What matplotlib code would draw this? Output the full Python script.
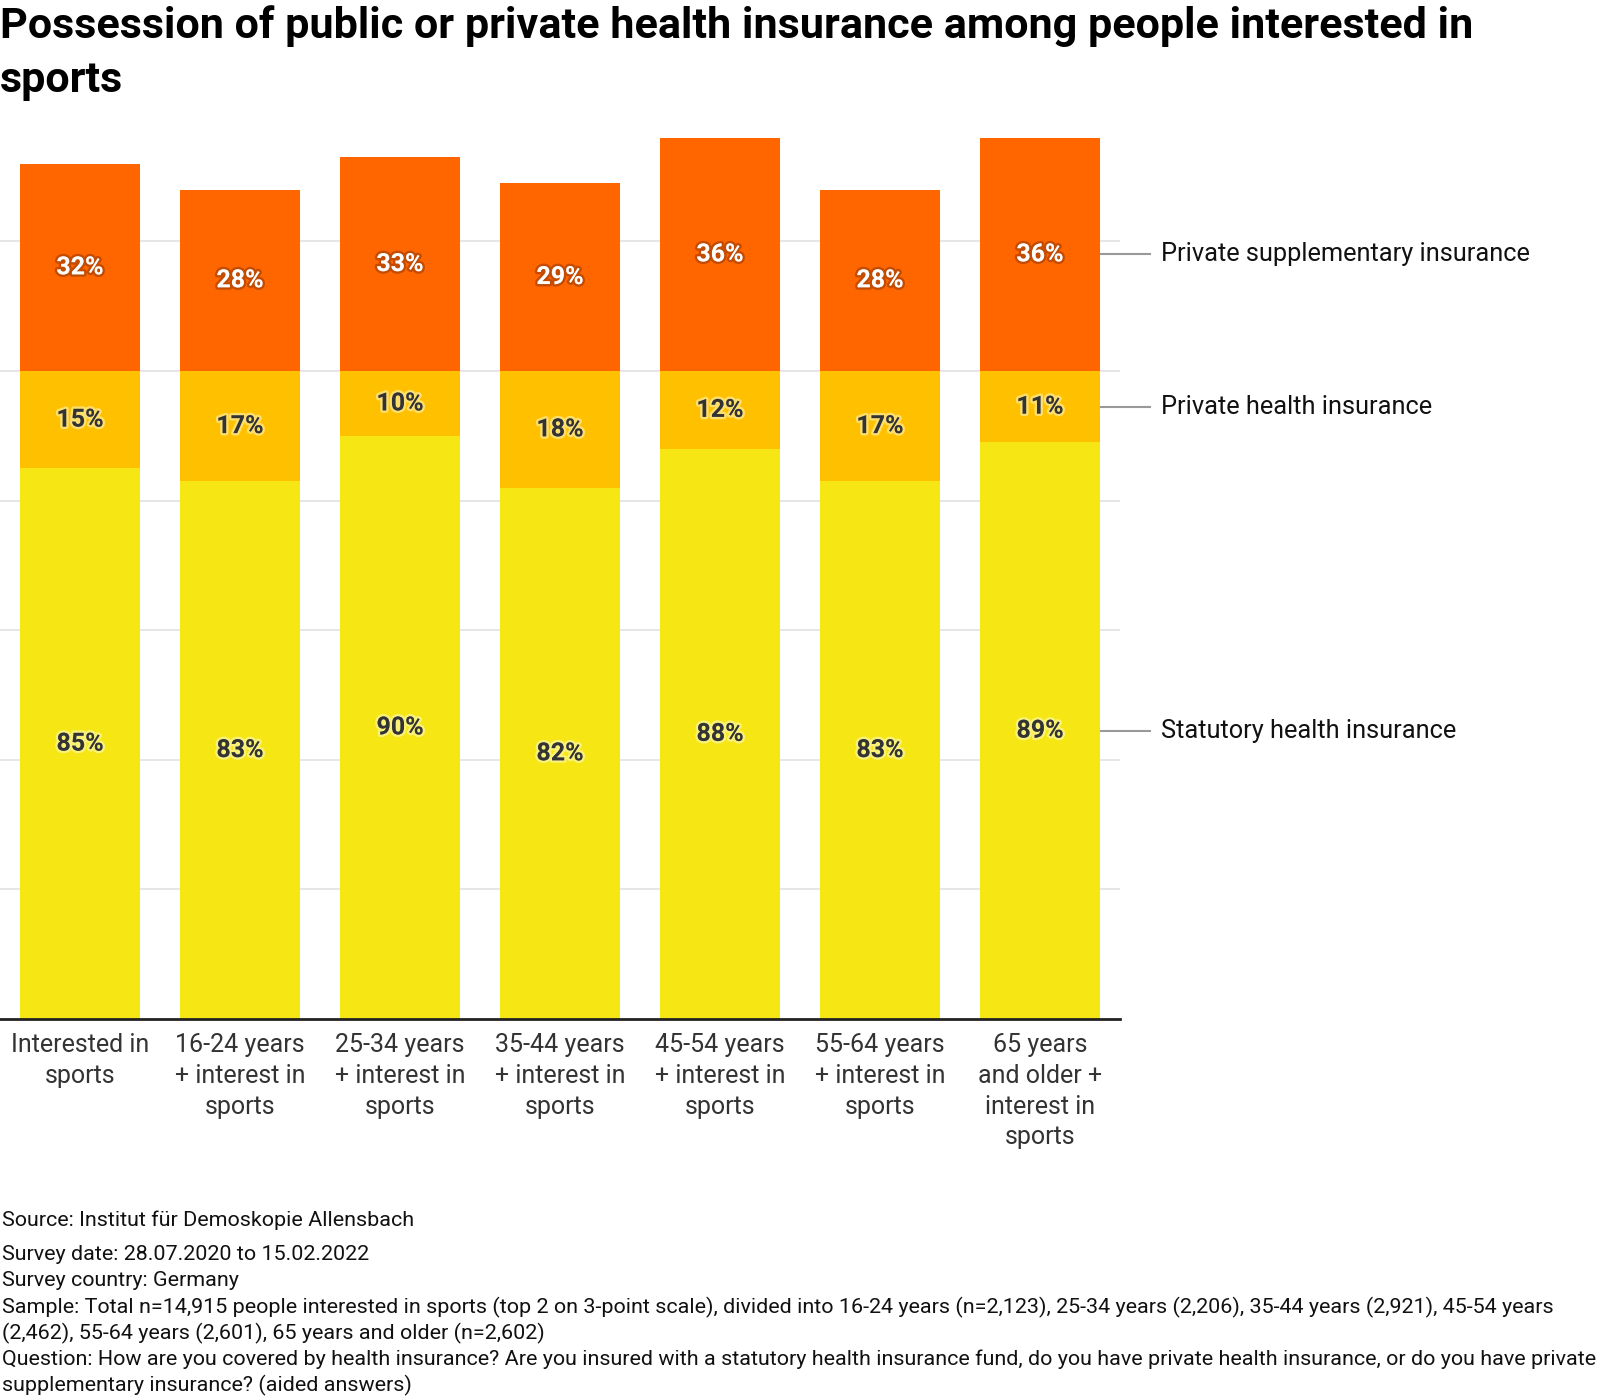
import matplotlib
matplotlib.use("Agg")
import matplotlib.pyplot as plt
import matplotlib.patheffects as pe

categories = [
    "Interested in\nsports",
    "16-24 years\n+ interest in\nsports",
    "25-34 years\n+ interest in\nsports",
    "35-44 years\n+ interest in\nsports",
    "45-54 years\n+ interest in\nsports",
    "55-64 years\n+ interest in\nsports",
    "65 years\nand older +\ninterest in\nsports",
]
statutory = [85, 83, 90, 82, 88, 83, 89]
private_health = [15, 17, 10, 18, 12, 17, 11]
private_supp = [32, 28, 33, 29, 36, 28, 36]
series_names = ["Statutory health insurance", "Private health insurance",
                "Private supplementary insurance"]
colors = ["#F5E614", "#FFC000", "#FF6600"]

title_lines = ["Possession of public or private health insurance among people interested in",
               "sports"]
source_line = "Source: Institut für Demoskopie Allensbach"
note_lines = [
    "Survey date: 28.07.2020 to 15.02.2022",
    "Survey country: Germany",
    "Sample: Total n=14,915 people interested in sports (top 2 on 3-point scale), divided into 16-24 years (n=2,123), 25-34 years (2,206), 35-44 years (2,921), 45-54 years",
    "(2,462), 55-64 years (2,601), 65 years and older (n=2,602)",
    "Question: How are you covered by health insurance? Are you insured with a statutory health insurance fund, do you have private health insurance, or do you have private",
    "supplementary insurance? (aided answers)",
]

FONT = "Roboto"
plt.rcParams["font.family"] = [FONT, "DejaVu Sans"]

W, H = 1600, 1400
fig = plt.figure(figsize=(16, 14), dpi=100)
PX = 6.48
ax_left, ax_right = 0, 1120
ax_bottom = 1019
ax_top = ax_bottom - 140 * PX
ax = fig.add_axes([ax_left / W, 1 - ax_bottom / H, (ax_right - ax_left) / W,
                   (ax_bottom - ax_top) / H])

x = list(range(len(categories)))
width = 0.75
series = [statutory, private_health, private_supp]
bottoms = [0] * len(x)
label_colors = ["#333333", "#333333", "white"]
for si, (vals, col) in enumerate(zip(series, colors)):
    ax.bar(x, vals, width, bottom=bottoms, color=col, zorder=2,
           label=series_names[si])
    for xi, v, b in zip(x, vals, bottoms):
        if label_colors[si] == "white":
            eff = [pe.withStroke(linewidth=3.5, foreground=(0.35, 0.1, 0, 0.35))]
        else:
            eff = [pe.withStroke(linewidth=3.5, foreground=(1, 1, 0.85, 0.5))]
        ax.text(xi, b + v / 2, f"{v}%", ha="center", va="center",
                fontsize=18, fontweight="bold", color=label_colors[si],
                zorder=3, path_effects=eff)
    last = len(x) - 1
    ymid = bottoms[last] + vals[last] / 2
    ax.plot([last + width / 2 + 0.005, 6.69], [ymid, ymid], color="#999999",
            lw=1.5, clip_on=False, zorder=3)
    ax.text(6.755, ymid, series_names[si], ha="left", va="center",
            fontsize=18.3, color="#111111", clip_on=False)
    bottoms = [b + v for b, v in zip(bottoms, vals)]

ax.set_xlim(-0.5, 6.5)
ax.set_ylim(0, 140)
ax.set_yticks([20, 40, 60, 80, 100, 120])
ax.yaxis.grid(True, color="#e6e6e6", lw=1.4, zorder=0)
ax.set_axisbelow(True)
ax.tick_params(axis="y", left=False, labelleft=False)
ax.set_xticks(x)
ax.set_xticklabels(categories, fontsize=18, color="#333333", linespacing=1.36)
ax.tick_params(axis="x", length=0, pad=10)
for s in ["top", "right", "left"]:
    ax.spines[s].set_visible(False)
ax.spines["bottom"].set_color("#222222")
ax.spines["bottom"].set_linewidth(2)
ax.spines["bottom"].set_zorder(4)

for i, (line, yb) in enumerate(zip(title_lines, [38, 92])):
    fig.text(0, 1 - yb / H, line, ha="left", va="baseline", fontsize=31.1,
             fontweight="bold", color="black")

fig.text(0.001, 1 - 1220 / H, source_line, ha="left", va="center", fontsize=15.45,
         color="#111111")
for i, line in enumerate(note_lines):
    yc = 1255 + i * 26
    fig.text(0.001, 1 - yc / H, line, ha="left", va="center", fontsize=15.45,
             color="#111111")

fig.savefig("out.png", dpi=100)
